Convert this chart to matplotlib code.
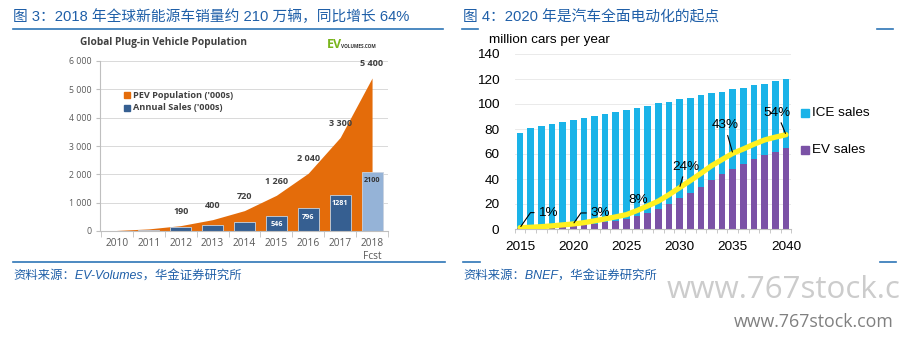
import matplotlib
matplotlib.use("Agg")
import matplotlib.pyplot as plt
import numpy as np
from matplotlib.lines import Line2D
from matplotlib.patches import Rectangle

plt.rcParams["font.family"] = ["Liberation Sans", "Noto Sans CJK SC"]

W, H = 903, 337

# 图3：全球插电车保有量 / 年销量（千辆）
years_l = ["2010", "2011", "2012", "2013", "2014", "2015", "2016", "2017", "2018\nFcst"]
pev_population = [20, 75, 190, 400, 720, 1260, 2040, 3300, 5400]
annual_sales = [7, 50, 125, 210, 320, 546, 796, 1281, 2100]

# 图4：全球汽车销量（百万辆/年）
years_r = list(range(2015, 2041))
total_sales = [76.5, 81.0, 82.4, 83.7, 85.3, 86.9, 88.5, 90.1, 91.7, 93.6,
               95.2, 96.8, 98.7, 100.5, 102.0, 103.7, 105.0, 107.0, 108.5, 110.0,
               111.7, 113.0, 114.9, 116.3, 118.1, 119.7]
ev_sales = [0.6, 0.8, 1.1, 1.5, 2.0, 2.5, 3.2, 4.2, 5.3, 6.5,
            7.8, 10.2, 13.0, 16.0, 20.0, 24.5, 29.0, 34.0, 39.2, 43.7,
            48.3, 51.7, 55.7, 59.2, 62.0, 64.5]
share_years = [2015, 2020, 2025, 2030, 2035, 2040]

TITLE_BLUE = "#1f5fa8"
RULE_BLUE = "#2e75b6"
ORANGE = "#e46c0a"
DARK_BLUE = "#365f91"
LIGHT_BLUE = "#95b3d7"
ICE_BLUE = "#1ab3e8"
EV_PURPLE = "#7b52a6"
YELLOW = "#fff01f"
OPEN = "Open Sans"


def fx(x):
    return x / W


def fy(y):
    return 1 - y / H


def box(left, top, right, bottom):
    return [fx(left), fy(bottom), (right - left) / W, (bottom - top) / H]


def rule(x0, x1, y):
    fig.add_artist(Line2D([fx(x0), fx(x1)], [fy(y), fy(y)], color=RULE_BLUE,
                          lw=1.2, transform=fig.transFigure))


def square(x, y, size, color):
    fig.add_artist(Rectangle((fx(x), fy(y + size)), size / W, size / H,
                             color=color, transform=fig.transFigure))


def thousands(v):
    return f"{v:,}".replace(",", " ")


fig = plt.figure(figsize=(W / 100, H / 100), dpi=100)

# 标题、分隔线、资料来源
fig.text(fx(13), fy(17), "图 3：2018 年全球新能源车销量约 210 万辆，同比增长 64%",
         fontsize=10.6, color=TITLE_BLUE, va="center")
fig.text(fx(463), fy(17), "图 4：2020 年是汽车全面电动化的起点",
         fontsize=10.6, color=TITLE_BLUE, va="center")
for x0, x1 in [(13, 443), (462, 478), (877, 893)]:
    rule(x0, x1, 29)
for x0, x1 in [(13, 445), (463, 480), (880, 896)]:
    rule(x0, x1, 262)
fig.text(fx(13), fy(277), "资料来源：EV-Volumes，华金证券研究所", fontsize=8.9,
         style="italic", color=TITLE_BLUE, va="center")
fig.text(fx(463), fy(277), "资料来源：BNEF，华金证券研究所", fontsize=8.9,
         style="italic", color=TITLE_BLUE, va="center")

# 水印
fig.text(fx(667), fy(290), "www.767stock.c", family=OPEN, fontsize=22.5,
         color="#cccccc", va="center")
fig.text(fx(734), fy(322), "www.767stock.com", family=OPEN, fontsize=12.8,
         color="#808080", va="center")

# ---- 图3 ----
ax1 = fig.add_axes(box(100, 61, 388, 231))
x = np.arange(len(years_l))
ax1.fill_between(x, pev_population, color=ORANGE, lw=0, zorder=1)
bar_colors = [DARK_BLUE] * (len(x) - 1) + [LIGHT_BLUE]
ax1.bar(x, annual_sales, width=0.66, color=bar_colors, edgecolor="#c9d3e0",
        lw=0.6, zorder=2)

for i in range(2, len(x)):
    ax1.annotate(thousands(pev_population[i]), (x[i], pev_population[i]),
                 xytext=(0, 7), textcoords="offset points", ha="center",
                 va="bottom", fontsize=6.5, fontweight="bold", color="#404040",
                 family=OPEN)
for i in range(5, len(x)):
    ax1.annotate(str(annual_sales[i]), (x[i], annual_sales[i]), xytext=(0, -4),
                 textcoords="offset points", ha="center", va="top",
                 fontsize=5.2, fontweight="bold",
                 color="#333333" if i == len(x) - 1 else "white", family=OPEN)

ax1.set_xlim(-0.53, 8.5)
ax1.set_ylim(0, 6000)
ax1.set_yticks(range(0, 6001, 1000))
ax1.set_yticklabels([thousands(v) for v in range(0, 6001, 1000)])
ax1.set_xticks(x)
ax1.set_xticklabels(years_l)
ax1.set_xticks(np.arange(-0.5, 8.6, 1), minor=True)
ax1.grid(axis="y", color="#d9d9d9", lw=0.7, zorder=0)
ax1.set_axisbelow(True)
for s in ["top", "right"]:
    ax1.spines[s].set_visible(False)
for s in ["left", "bottom"]:
    ax1.spines[s].set_color("#bfbfbf")
ax1.tick_params(axis="y", length=3, color="#bfbfbf", pad=3, labelsize=6.3,
                labelcolor="#595959")
ax1.tick_params(axis="x", which="major", length=0, pad=5, labelsize=7.3,
                labelcolor="#595959")
ax1.tick_params(axis="x", which="minor", length=4, color="#bfbfbf")
for t in ax1.get_xticklabels() + ax1.get_yticklabels():
    t.set_family(OPEN)
    t.set_linespacing(1.25)

fig.text(fx(163), fy(43), "Global Plug-in Vehicle Population", family=OPEN,
         fontsize=7.3, fontweight="bold", color="#404040", ha="center", va="center")
fig.text(fx(327), fy(44), "EV", family=OPEN, fontsize=9, fontweight="bold",
         color="#7ab51d", va="center")
fig.text(fx(341), fy(46.5), "VOLUMES.COM", family=OPEN, fontsize=3.4,
         fontweight="bold", color="#333333", va="center")

square(124, 92, 6, ORANGE)
fig.text(fx(133), fy(95), "PEV Population ('000s)", family=OPEN, fontsize=6.6,
         fontweight="bold", color="#404040", va="center")
square(124, 105, 6, DARK_BLUE)
fig.text(fx(133), fy(108), "Annual Sales ('000s)", family=OPEN, fontsize=6.6,
         fontweight="bold", color="#404040", va="center")

# ---- 图4 ----
ax2 = fig.add_axes(box(514.7, 54, 791.3, 229))
ice_sales = [t - e for t, e in zip(total_sales, ev_sales)]
ax2.bar(years_r, ev_sales, width=0.62, color=EV_PURPLE, zorder=2)
ax2.bar(years_r, ice_sales, bottom=ev_sales, width=0.62, color=ICE_BLUE, zorder=2)
ax2.set_xlim(2014.5, 2040.5)
ax2.set_ylim(0, 140)
ax2.set_yticks(range(0, 141, 20))
ax2.set_xticks(range(2015, 2041, 5))
ax2.set_xticks(np.arange(2014.5, 2041, 1), minor=True)
ax2.grid(axis="y", color="#e6e6e6", lw=0.6, zorder=0)
ax2.set_axisbelow(True)
for s in ["top", "right", "left"]:
    ax2.spines[s].set_visible(False)
ax2.spines["bottom"].set_color("#bfbfbf")
ax2.tick_params(axis="x", which="major", length=0, pad=9, labelsize=9.7)
ax2.tick_params(axis="x", which="minor", length=3, color="#bfbfbf")
ax2.tick_params(axis="y", length=0, pad=11, labelsize=9.7)

fig.text(fx(489), fy(40), "million cars per year", fontsize=9.7, va="center")

# EV 渗透率（右轴 0–100%，不显示）
share = [e / t * 100 for e, t in zip(ev_sales, total_sales)]
ax3 = ax2.twinx()
ax3.set_ylim(0, 100)
ax3.axis("off")
ax3.plot(years_r, share, color=YELLOW, lw=3.8, solid_capstyle="round", zorder=3)

label_offsets = {
    2015: (28, 15, "angle,angleA=0,angleB=55,rad=0"),
    2020: (27, 11, "angle,angleA=0,angleB=55,rad=0"),
    2025: (12, 15, None),
    2030: (6, 21, "arc3"),
    2035: (-8, 28, "arc3"),
    2040: (-9, 22, "arc3"),
}
for yr in share_years:
    i = years_r.index(yr)
    dx, dy, conn = label_offsets[yr]
    arrow = None
    if conn:
        arrow = dict(arrowstyle="-", color="black", lw=0.8, shrinkA=1,
                     shrinkB=1, connectionstyle=conn)
    ax3.annotate(f"{share[i]:.0f}%", (yr, share[i]), xytext=(dx, dy),
                 textcoords="offset pixels", ha="center", va="center",
                 fontsize=9.7, arrowprops=arrow)

square(801, 109, 8, ICE_BLUE)
fig.text(fx(812), fy(113), "ICE sales", fontsize=9.7, va="center")
square(801, 146, 8, EV_PURPLE)
fig.text(fx(812), fy(150), "EV sales", fontsize=9.7, va="center")

fig.savefig("out.png", dpi=100)
